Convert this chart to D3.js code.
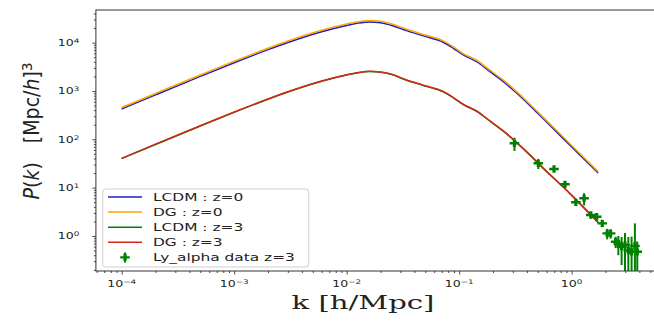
<!DOCTYPE html>
<html>
<head>
<meta charset="utf-8">
<script src="https://cdn.jsdelivr.net/npm/d3@7"></script>
<style>
  body { margin: 0; background: #fff; }
  svg { display: block; }
  text { font-family: "DejaVu Sans", sans-serif; fill: #222; }
</style>
</head>
<body>
<div id="chart"></div>
<script>
// wavenumbers shared by the four model curves [h/Mpc]
const kModel = [1e-4, 2e-4, 5e-4, 1e-3, 2e-3, 3e-3, 6e-3, 0.01, 0.0127, 0.0161, 0.02, 0.0243,
                0.0341, 0.048, 0.0722, 0.0887, 0.1087, 0.143, 0.188, 0.247, 0.324, 0.426,
                0.56, 0.966, 1.72];

// P(k) values, [Mpc/h]^3
const pLcdmZ0 = [424, 830, 2000, 3840, 7160, 10070, 16830, 22650, 25350, 26800, 25800, 23200,
                 17700, 13800, 10200, 7650, 5560, 4040, 2510, 1560, 906, 498,
                 265, 75.5, 20.0];
const pDgZ0 = [454, 888, 2140, 4110, 7660, 10770, 18010, 24240, 27120, 28680, 27600, 24820,
               18940, 14770, 10910, 8190, 5950, 4320, 2690, 1670, 969, 533,
               284, 80.8, 21.4];
const pLcdmZ3 = [39.9, 78.1, 188, 361, 674, 948, 1583, 2130, 2384, 2520, 2428, 2230,
                 1665, 1298, 959, 720, 523, 380, 236, 147, 85.2, 46.9,
                 24.9, 7.5, 1.88];
const pDgZ3 = [40.5, 79.3, 191, 367, 684, 962, 1607, 2163, 2420, 2560, 2465, 2265,
               1690, 1318, 974, 731, 531, 386, 240, 149, 86.5, 47.6,
               25.3, 7.6, 1.91];

// Lyman-alpha flux power points at z=3
const lyK = [0.31, 0.505, 0.697, 0.872, 1.09, 1.29, 1.48, 1.67, 1.87, 2.07, 2.22, 2.46,
             2.60, 2.78, 2.98, 3.19, 3.41, 3.65, 3.83];
const lyP = [82.6, 31.8, 24.3, 11.7, 4.96, 6.0, 2.71, 2.50, 1.82, 1.13, 1.13, 0.76,
             0.70, 0.60, 0.65, 0.50, 0.47, 0.62, 0.47];
const lyErr = [25, 7.5, 3, 1.5, 0.6, 1.7, 0.4, 0.4, 0.3, 0.28, 0.25, 0.2,
               0.3, 0.35, 0.5, 0.45, 0.5, 1.2, 0.3];

const xTickExp = [-4, -3, -2, -1, 0];
const yTickExp = [0, 1, 2, 3, 4];
const seriesLabels = ["LCDM : z=0", "DG : z=0", "LCDM : z=3", "DG : z=3"];
const dataLabel = "Ly_alpha data z=3";


class SpectrumChart {
    constructor() {
        this.width = 654;
        this.height = 321;
        this.colors = ["#1c1cc8", "#ffa500", "#008000", "#d8261a"];
        this.textStretch = 1.4;  // the picture is wider than it is tall

        this.x = d3.scaleLog()
            .domain([Math.pow(10, -4.229), Math.pow(10, 0.812)])
            .range([95.9, 663]);
        this.y = d3.scaleLog()
            .domain([Math.pow(10, -0.725), Math.pow(10, 4.675)])
            .range([271, 10]);
    }

    draw() {
        let svg = d3.select("#chart").append("svg")
            .attr("width", this.width)
            .attr("height", this.height);
        this.svg = svg;

        let [x0, x1] = this.x.range();
        let [y0, y1] = this.y.range();

        svg.append("clipPath").attr("id", "plotClip")
            .append("rect")
            .attr("x", x0).attr("y", y1)
            .attr("width", x1 - x0).attr("height", y0 - y1);

        this.drawAxes();

        let plot = svg.append("g").attr("clip-path", "url(#plotClip)");

        // model curves, same order as the legend
        let curves = [pLcdmZ0, pDgZ0, pLcdmZ3, pDgZ3];
        let line = d3.line()
            .x(d => this.x(d[0]))
            .y(d => this.y(d[1]))
            .curve(d3.curveMonotoneX);
        curves.forEach((p, i) => {
            plot.append("path")
                .datum(kModel.map((k, j) => [k, p[j]]))
                .attr("d", line)
                .attr("fill", "none")
                .attr("stroke", this.colors[i])
                .attr("stroke-width", 1.5);
        });

        // Ly-alpha points with vertical error bars
        let pts = lyK.map((k, i) => ({k: k, p: lyP[i], e: lyErr[i]}));
        plot.selectAll("line.err")
            .data(pts)
            .join("line")
            .attr("class", "err")
            .attr("x1", d => this.x(d.k))
            .attr("x2", d => this.x(d.k))
            .attr("y1", d => this.y(d.p + d.e))
            .attr("y2", d => d.p - d.e > 0 ? this.y(d.p - d.e) : y0 + 5)
            .attr("stroke", "#008000")
            .attr("stroke-width", 2);
        let marker = d3.symbol(d3.symbolCross, 30);
        plot.selectAll("path.pt")
            .data(pts)
            .join("path")
            .attr("class", "pt")
            .attr("d", marker)
            .attr("transform", d => `translate(${this.x(d.k)},${this.y(d.p)}) scale(1.3,1)`)
            .attr("fill", "#008000");

        // frame (the right edge sits just outside the picture)
        svg.append("rect")
            .attr("x", x0).attr("y", y1)
            .attr("width", x1 - x0).attr("height", y0 - y1)
            .attr("fill", "none")
            .attr("stroke", "#333")
            .attr("stroke-width", 1);

        this.drawLegend();
        this.drawLabels();
    }

    drawAxes() {
        let svg = this.svg;
        let [x0, x1] = this.x.range();
        let [y0, y1] = this.y.range();

        // minor tick positions for each decade
        function minors(scale) {
            let [lo, hi] = scale.domain();
            let out = [];
            for (let e = Math.floor(Math.log10(lo)); e <= Math.ceil(Math.log10(hi)); e++) {
                for (let m = 2; m <= 9; m++) {
                    let v = m * Math.pow(10, e);
                    if (v > lo && v < hi) out.push(v);
                }
            }
            return out;
        }

        let xMajor = xTickExp.map(e => Math.pow(10, e));
        let yMajor = yTickExp.map(e => Math.pow(10, e));

        let gx = svg.append("g").attr("transform", `translate(0,${y0})`);
        gx.call(d3.axisBottom(this.x).tickValues(minors(this.x)).tickSize(2).tickFormat(""));
        gx.call(g => g.select(".domain").remove());
        let gx2 = svg.append("g").attr("transform", `translate(0,${y0})`);
        gx2.call(d3.axisBottom(this.x).tickValues(xMajor).tickSize(3.5).tickFormat(""));
        gx2.call(g => g.select(".domain").remove());

        let gy = svg.append("g").attr("transform", `translate(${x0},0)`);
        gy.call(d3.axisLeft(this.y).tickValues(minors(this.y)).tickSize(2).tickFormat(""));
        gy.call(g => g.select(".domain").remove());
        let gy2 = svg.append("g").attr("transform", `translate(${x0},0)`);
        gy2.call(d3.axisLeft(this.y).tickValues(yMajor).tickSize(3.5).tickFormat(""));
        gy2.call(g => g.select(".domain").remove());

        svg.selectAll(".tick line").attr("stroke", "#333").attr("stroke-width", 0.9);

        let sx = this.textStretch;
        let powerLabel = (sel, e) => {
            sel.append("tspan").text("10");
            sel.append("tspan")
                .attr("dy", "-0.45em")
                .attr("font-size", "70%")
                .text(e < 0 ? "\u2212" + (-e) : e);
        };

        xTickExp.forEach(e => {
            let t = svg.append("text")
                .attr("transform", `translate(${this.x(Math.pow(10, e))},${y0 + 15.5}) scale(${sx},1)`)
                .attr("text-anchor", "middle")
                .attr("font-size", 9);
            powerLabel(t, e);
        });
        yTickExp.forEach(e => {
            let t = svg.append("text")
                .attr("transform", `translate(${x0 - 16.5},${this.y(Math.pow(10, e)) + 3.3}) scale(${sx},1)`)
                .attr("text-anchor", "end")
                .attr("font-size", 9);
            powerLabel(t, e);
        });
    }

    drawLegend() {
        let svg = this.svg;
        let lg = svg.append("g");
        lg.append("rect")
            .attr("x", 102.7).attr("y", 189)
            .attr("width", 206).attr("height", 78)
            .attr("rx", 3)
            .attr("fill", "#fff").attr("fill-opacity", 0.8)
            .attr("stroke", "#d0d0d0");

        let rowY = i => 197 + i * 15.1;
        seriesLabels.forEach((lab, i) => {
            lg.append("line")
                .attr("x1", 108).attr("x2", 142)
                .attr("y1", rowY(i)).attr("y2", rowY(i))
                .attr("stroke", this.colors[i])
                .attr("stroke-width", 1.5);
        });
        // errorbar entry
        let yd = rowY(4);
        lg.append("line")
            .attr("x1", 125).attr("x2", 125)
            .attr("y1", yd - 5).attr("y2", yd + 5)
            .attr("stroke", "#008000").attr("stroke-width", 2);
        lg.append("path")
            .attr("d", d3.symbol(d3.symbolCross, 30))
            .attr("transform", `translate(125,${yd}) scale(1.3,1)`)
            .attr("fill", "#008000");

        seriesLabels.concat([dataLabel]).forEach((lab, i) => {
            lg.append("text")
                .attr("transform", `translate(153,${rowY(i) + 4}) scale(${this.textStretch},1)`)
                .attr("font-size", 11)
                .text(lab);
        });
    }

    drawLabels() {
        let svg = this.svg;
        // x label, serif
        svg.append("text")
            .attr("x", 363).attr("y", 309)
            .attr("text-anchor", "middle")
            .style("font-family", "'DejaVu Serif', serif")
            .attr("font-size", 18)
            .attr("textLength", 143)
            .attr("lengthAdjust", "spacingAndGlyphs")
            .text("k [h/Mpc]");

        // y label
        let yl = svg.append("text")
            .attr("transform", "translate(39,131) rotate(-90) scale(1,1.12)")
            .attr("text-anchor", "middle")
            .attr("font-size", 19);
        yl.append("tspan").attr("font-style", "italic").text("P");
        yl.append("tspan").text("(");
        yl.append("tspan").attr("font-style", "italic").text("k");
        yl.append("tspan").text(")\u2002\u2002[Mpc/");
        yl.append("tspan").attr("font-style", "italic").text("h");
        yl.append("tspan").text("]");
        yl.append("tspan").attr("dy", "-0.5em").attr("font-size", "70%").text("3");
    }
}

let chart = new SpectrumChart();
chart.draw();
</script>
</body>
</html>
